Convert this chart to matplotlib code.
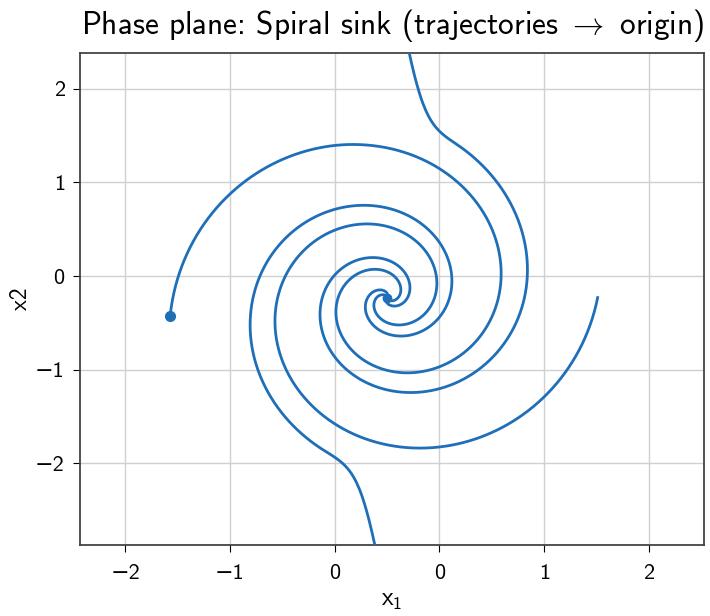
import numpy as np
import matplotlib
matplotlib.use("Agg")
import matplotlib.pyplot as plt

plt.rcParams['font.family'] = ['cmss10', 'DejaVu Sans']
plt.rcParams['mathtext.fontset'] = 'custom'
plt.rcParams['mathtext.rm'] = 'cmss10'
plt.rcParams['mathtext.it'] = 'cmss10'
plt.rcParams['mathtext.sf'] = 'cmss10'
plt.rcParams['axes.formatter.use_mathtext'] = True

# Sink location and system parameters
equilibrium = (0.0, -0.23)
rotation = 1.0
decay_p = 0.30
decay_v = 0.01
friction = 0.08
aspect = 0.94
shear = -0.14
clip_level = 1.62
clip_gain = 40.0

# Initial conditions (offsets from the equilibrium)
start_dx = [-2.07, 2.01, 0.14, -0.05]
start_dy = [-0.20, 0.00, 3.00, -3.00]
t_end = 25.0
dt = 0.005

# Axis ticks
x_ticks = [-2.5, -1.5, -0.5, 0.5, 1.5, 2.5]
x_tick_labels = ['\u22122', '\u22121', '0', '0', '1', '2']
y_ticks = [-2, -1, 0, 1, 2]
y_tick_labels = ['\u22122', '\u22121', '0', '1', '2']


def field(p, v):
    """Vector field in the normalised (p, v) coordinates."""
    r = np.hypot(p, v)
    f = friction / (r + 0.01)
    excess = np.clip(np.abs(v) - clip_level, 0, None)
    dp = -(decay_p + f) * p + rotation * v
    dv = -rotation * p - (decay_v + f) * v - clip_gain * np.sign(v) * excess ** 2
    return dp, dv


def integrate(p0, v0):
    n = int(t_end / dt)
    p = np.empty((n + 1, len(p0)))
    v = np.empty((n + 1, len(p0)))
    p[0], v[0] = p0, v0
    for i in range(n):
        a1, b1 = field(p[i], v[i])
        a2, b2 = field(p[i] + 0.5 * dt * a1, v[i] + 0.5 * dt * b1)
        a3, b3 = field(p[i] + 0.5 * dt * a2, v[i] + 0.5 * dt * b2)
        a4, b4 = field(p[i] + dt * a3, v[i] + dt * b3)
        p[i + 1] = p[i] + dt / 6 * (a1 + 2 * a2 + 2 * a3 + a4)
        v[i + 1] = v[i] + dt / 6 * (b1 + 2 * b2 + 2 * b3 + b4)
    return p, v


dx0 = np.array(start_dx)
dy0 = np.array(start_dy)
P, V = integrate((dx0 - shear * dy0) / aspect, dy0)
X = aspect * P + shear * V + equilibrium[0]
Y = V + equilibrium[1]

fig = plt.figure(figsize=(7.1, 6.16), dpi=100)
ax = fig.add_axes([80 / 710, 1 - 545 / 616, 624 / 710, 492 / 616])

color = '#1f6fb8'
for k in range(X.shape[1]):
    ax.plot(X[:, k], Y[:, k], color=color, lw=2.0, zorder=3)

ax.plot(X[0, 0], Y[0, 0], 'o', color=color, ms=7, zorder=4)
ax.plot(equilibrium[0], equilibrium[1], 'o', color=color, ms=6, zorder=4)

ax.set_xlim(-2.93, 3.025)
ax.set_ylim(-2.87, 2.38)
ax.set_xticks(x_ticks)
ax.set_xticklabels(x_tick_labels)
ax.set_yticks(y_ticks)
ax.set_yticklabels(y_tick_labels)
ax.tick_params(labelsize=16, pad=6, length=5)
ax.tick_params(axis='x', pad=9)
ax.grid(True, color='#d0d0d0', lw=1.0)
ax.set_axisbelow(True)
for s in ax.spines.values():
    s.set_color('#444444')
    s.set_linewidth(1.3)

ax.set_xlabel('$x_1$', fontsize=18, labelpad=4)
ax.set_ylabel('x2', fontsize=17, labelpad=2)
ax.set_title(r'Phase plane: Spiral sink (trajectories $\rightarrow$ origin)',
             fontsize=22.5, pad=14)

fig.savefig('out.png', dpi=100)
